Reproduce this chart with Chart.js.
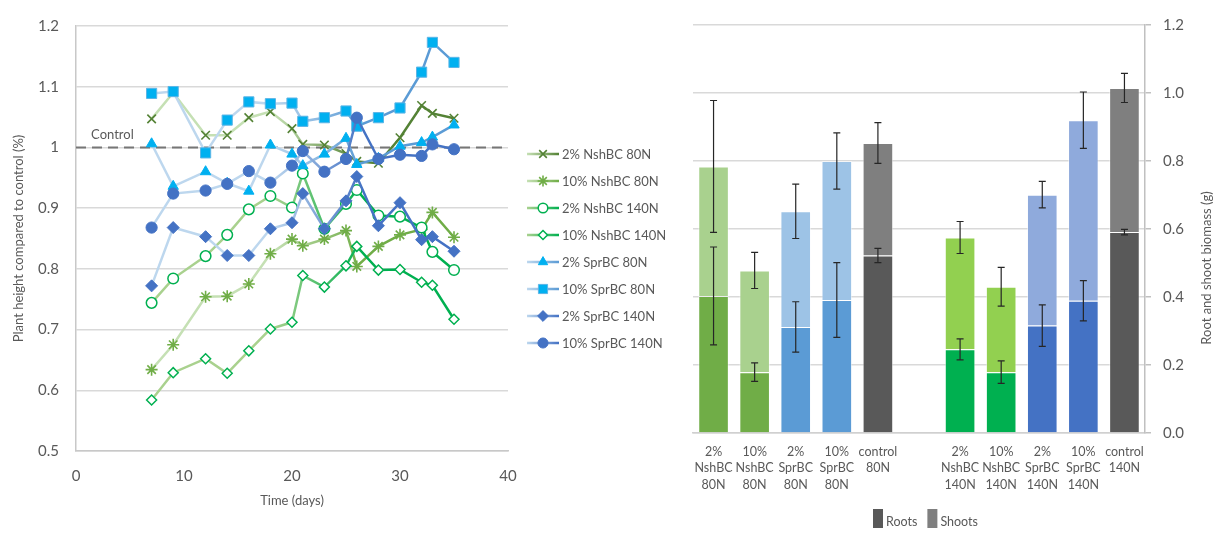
<!DOCTYPE html>
<html>
<head>
<meta charset="utf-8">
<script src="https://cdn.jsdelivr.net/npm/chart.js@4.4.1/dist/chart.umd.min.js"></script>
<style>
  html, body { margin: 0; padding: 0; background: #fff; }
  #wrap { position: relative; width: 1215px; height: 533px; overflow: hidden; }
  #heightChart { position: absolute; left: 0; top: 0; }
  #biomassChart { position: absolute; left: 680px; top: 0; }
</style>
</head>
<body>
<div id="wrap">
  <canvas id="heightChart" width="680" height="533"></canvas>
  <canvas id="biomassChart" width="535" height="533"></canvas>
</div>
<script>
// ---- plant height data (left chart) ----
var days = [7, 9, 12, 14, 16, 18, 20, 21, 23, 25, 26, 28, 30, 32, 33, 35];

var nsh2_80   = [1.047, 1.090, 1.020, 1.020, 1.049, 1.059, 1.031, 1.005, 1.004, 0.990, 0.977, 0.974, 1.016, 1.069, 1.056, 1.048];
var nsh10_80  = [0.634, 0.675, 0.754, 0.755, 0.775, 0.825, 0.849, 0.838, 0.849, 0.863, 0.804, 0.837, 0.856, 0.865, 0.893, 0.852];
var nsh2_140  = [0.744, 0.784, 0.821, 0.856, 0.898, 0.920, 0.901, 0.957, 0.866, 0.907, 0.930, 0.888, 0.886, 0.868, 0.828, 0.798];
var nsh10_140 = [0.584, 0.629, 0.652, 0.628, 0.665, 0.701, 0.712, 0.789, 0.770, 0.805, 0.837, 0.798, 0.799, 0.778, 0.773, 0.717];
var spr2_80   = [1.006, 0.936, 0.960, 0.941, 0.928, 1.004, 0.989, 0.970, 0.989, 1.015, 0.972, 0.982, 1.002, 1.008, 1.017, 1.037];
var spr10_80  = [1.089, 1.092, 0.991, 1.045, 1.075, 1.072, 1.073, 1.043, 1.049, 1.060, 1.035, 1.049, 1.065, 1.124, 1.173, 1.140];
var spr2_140  = [0.772, 0.868, 0.853, 0.822, 0.822, 0.866, 0.876, 0.924, 0.866, 0.912, 0.952, 0.871, 0.909, 0.848, 0.853, 0.829];
var spr10_140 = [0.868, 0.924, 0.929, 0.940, 0.961, 0.942, 0.970, 0.994, 0.960, 0.981, 1.049, 0.981, 0.988, 0.986, 1.005, 0.997];

var seriesNames = ['2% NshBC 80N', '10% NshBC 80N', '2% NshBC 140N', '10% NshBC 140N',
                   '2% SprBC 80N', '10% SprBC 80N', '2% SprBC 140N', '10% SprBC 140N'];
var seriesValues = [nsh2_80, nsh10_80, nsh2_140, nsh10_140, spr2_80, spr10_80, spr2_140, spr10_140];

var controlDays = [0, 40];
var controlLevel = [1, 1];

// ---- biomass data (right chart) ----
var groups = [['2%', 'NshBC', '80N'], ['10%', 'NshBC', '80N'], ['2%', 'SprBC', '80N'], ['10%', 'SprBC', '80N'], ['control', '80N'],
              '',
              ['2%', 'NshBC', '140N'], ['10%', 'NshBC', '140N'], ['2%', 'SprBC', '140N'], ['10%', 'SprBC', '140N'], ['control', '140N']];
var roots    = [0.403, 0.179, 0.312, 0.391, 0.522, null, 0.246, 0.179, 0.316, 0.389, 0.591];
var shoots   = [0.381, 0.299, 0.340, 0.409, 0.331, null, 0.329, 0.251, 0.385, 0.531, 0.424];
var rootErr  = [0.144, 0.027, 0.074, 0.110, 0.021, null, 0.031, 0.033, 0.061, 0.059, 0.008];
var shootErr = [0.194, 0.053, 0.080, 0.083, 0.060, null, 0.047, 0.057, 0.039, 0.083, 0.043];

// styles
var rootColors  = ['#70AD47', '#70AD47', '#5B9BD5', '#5B9BD5', '#595959', null, '#00B050', '#00B050', '#4472C4', '#4472C4', '#595959'];
var shootColors = ['#A9D18E', '#A9D18E', '#9DC3E6', '#9DC3E6', '#7F7F7F', null, '#92D050', '#92D050', '#8FAADC', '#8FAADC', '#7F7F7F'];

var lineStyles = [
  { light: '#C5E0B4', dark: '#548235', marker: 'crossRot', radius: 6,   fill: '#548235', stroke: '#548235', bw: 1.6 },
  { light: '#C5E0B4', dark: '#70AD47', marker: 'star',     radius: 6,   fill: '#70AD47', stroke: '#70AD47', bw: 1.6 },
  { light: '#A9D18E', dark: '#00B050', marker: 'circle',   radius: 5.3, fill: '#ffffff', stroke: '#00B050', bw: 1.5 },
  { light: '#A9D18E', dark: '#00B050', marker: 'rectRot',  radius: 5,   fill: '#ffffff', stroke: '#00B050', bw: 1.5 },
  { light: '#BDD7EE', dark: '#5B9BD5', marker: 'triangle', radius: 6,   fill: '#00B0F0', stroke: '#00B0F0', bw: 1 },
  { light: '#BDD7EE', dark: '#5B9BD5', marker: 'rect',     radius: 7.2, fill: '#00B0F0', stroke: '#5BB5E6', bw: 1 },
  { light: '#BDD7EE', dark: '#4472C4', marker: 'rectRot',  radius: 6,   fill: '#4472C4', stroke: '#4472C4', bw: 1 },
  { light: '#BDD7EE', dark: '#4472C4', marker: 'circle',   radius: 5.6, fill: '#4472C4', stroke: '#4472C4', bw: 1 }
];

var textColor = '#595959';
Chart.defaults.font.family = 'Lato, Calibri, sans-serif';
Chart.defaults.color = textColor;

function lineGradient(light, dark) {
  return function (context) {
    var chart = context.chart;
    if (!chart.chartArea || !chart.scales.x) return dark;
    var xs = chart.scales.x;
    var x0 = xs.getPixelForValue(days[0]);
    var x1 = xs.getPixelForValue(days[days.length - 1]);
    var g = chart.ctx.createLinearGradient(x0, 0, x1, 0);
    g.addColorStop(0, light);
    g.addColorStop(0.4, light);
    g.addColorStop(0.7, dark);
    g.addColorStop(1, dark);
    return g;
  };
}

var heightSets = seriesNames.map(function (name, i) {
  var st = lineStyles[i];
  return {
    label: name,
    data: days.map(function (d, j) { return { x: d, y: seriesValues[i][j] }; }),
    borderColor: lineGradient(st.light, st.dark),
    borderWidth: 2.5,
    pointStyle: st.marker,
    pointRadius: st.radius,
    pointBackgroundColor: st.fill,
    pointBorderColor: st.stroke,
    pointBorderWidth: st.bw,
    tension: 0,
    order: seriesNames.length - i
  };
});

heightSets.push({
  label: 'Control',
  data: controlDays.map(function (d, j) { return { x: d, y: controlLevel[j] }; }),
  borderColor: '#767676',
  borderWidth: 2,
  borderDash: [10, 6],
  pointRadius: 0,
  order: 99
});

// "Control" label and legend with line + marker samples
var heightExtras = {
  id: 'heightExtras',
  afterDraw: function (chart) {
    var ctx = chart.ctx;
    var xs = chart.scales.x, ys = chart.scales.y;
    ctx.save();
    ctx.font = '13px Lato, Calibri, sans-serif';
    ctx.fillStyle = textColor;
    ctx.textAlign = 'left';
    ctx.textBaseline = 'middle';
    ctx.fillText('Control', xs.getPixelForValue(1.4), ys.getPixelForValue(1) - 13);

    var lx = chart.chartArea.right + 19;
    var ly = 154;
    seriesNames.forEach(function (name, i) {
      var st = lineStyles[i];
      var y = ly + i * 27;
      var g = ctx.createLinearGradient(lx, 0, lx + 32, 0);
      g.addColorStop(0, st.light);
      g.addColorStop(1, st.dark);
      ctx.strokeStyle = g;
      ctx.lineWidth = 2.5;
      ctx.setLineDash([]);
      ctx.beginPath();
      ctx.moveTo(lx, y);
      ctx.lineTo(lx + 32, y);
      ctx.stroke();
      ctx.fillStyle = st.fill;
      ctx.strokeStyle = st.stroke;
      ctx.lineWidth = st.bw;
      Chart.helpers.drawPoint(ctx, { pointStyle: st.marker, radius: st.radius * 0.9, borderWidth: st.bw, rotation: 0 }, lx + 16, y);
      ctx.fillStyle = textColor;
      ctx.fillText(name, lx + 35, y + 1);
    });
    ctx.restore();
  }
};

new Chart(document.getElementById('heightChart'), {
  type: 'line',
  data: { datasets: heightSets },
  options: {
    responsive: false,
    animation: false,
    layout: { padding: { left: 0, top: 13, right: 172, bottom: 0 } },
    plugins: { legend: { display: false }, tooltip: { enabled: false } },
    scales: {
      x: {
        type: 'linear', min: 0, max: 40,
        ticks: { stepSize: 10, font: { size: 15 }, color: textColor, padding: 16 },
        grid: { display: false, drawTicks: false },
        border: { display: true, color: '#c8c8c8', width: 1.5 },
        title: { display: true, text: 'Time (days)', font: { size: 13 }, color: textColor, padding: { bottom: 24, top: 0 } },
        afterFit: function (s) { s.height = 82; }
      },
      y: {
        min: 0.5, max: 1.2,
        ticks: { stepSize: 0.1, font: { size: 15 }, color: textColor, padding: 17,
                 callback: function (v) { return String(Math.round(v * 10) / 10); } },
        grid: { color: '#d9d9d9', lineWidth: 1.5, drawTicks: false },
        border: { display: true, color: '#c8c8c8', width: 1.5 },
        title: { display: true, text: 'Plant height compared to control (%)', font: { size: 13 }, color: textColor, padding: { top: 11, bottom: 0 } },
        afterFit: function (s) { s.width = 76; }
      }
    }
  },
  plugins: [heightExtras]
});

// ---- right chart ----
var errorBars = {
  id: 'errorBars',
  afterDatasetsDraw: function (chart) {
    var ctx = chart.ctx, ys = chart.scales.y;
    var meta = chart.getDatasetMeta(0);
    function bar(x, v, e) {
      var yt = ys.getPixelForValue(v + e), yb = ys.getPixelForValue(v - e);
      ctx.beginPath();
      ctx.moveTo(x, yt); ctx.lineTo(x, yb);
      ctx.moveTo(x - 3.5, yt); ctx.lineTo(x + 3.5, yt);
      ctx.moveTo(x - 3.5, yb); ctx.lineTo(x + 3.5, yb);
      ctx.stroke();
    }
    ctx.save();
    ctx.strokeStyle = '#262626';
    ctx.lineWidth = 1.2;
    roots.forEach(function (r, i) {
      if (r === null) return;
      var x = meta.data[i].x;
      bar(x, r, rootErr[i]);
      bar(x, r + shoots[i], shootErr[i]);
    });
    ctx.restore();
  }
};

var biomassExtras = {
  id: 'biomassExtras',
  afterDraw: function (chart) {
    var ctx = chart.ctx;
    ctx.save();
    ctx.font = '13px Lato, Calibri, sans-serif';
    ctx.fillStyle = textColor;
    // axis title on the right, reading bottom to top
    ctx.translate(527, 268);
    ctx.rotate(-Math.PI / 2);
    ctx.textAlign = 'center';
    ctx.textBaseline = 'middle';
    ctx.fillText('Root and shoot biomass (g)', 0, 0);
    ctx.restore();

    // bottom legend
    ctx.save();
    ctx.font = '12.5px Lato, Calibri, sans-serif';
    ctx.textBaseline = 'middle';
    ctx.textAlign = 'left';
    var items = [{ t: 'Roots', c: '#595959' }, { t: 'Shoots', c: '#7F7F7F' }];
    var x = 193;
    items.forEach(function (it) {
      ctx.fillStyle = it.c;
      ctx.fillRect(x, 509, 10, 19);
      ctx.fillStyle = textColor;
      ctx.fillText(it.t, x + 13, 522);
      x += 13 + ctx.measureText(it.t).width + 10;
    });
    ctx.restore();
  }
};

new Chart(document.getElementById('biomassChart'), {
  type: 'bar',
  data: {
    labels: groups,
    datasets: [
      { label: 'Roots', data: roots, backgroundColor: rootColors, borderColor: 'rgba(255,255,255,0.5)', borderWidth: 1,
        categoryPercentage: 1, barPercentage: 0.745 },
      { label: 'Shoots', data: shoots, backgroundColor: shootColors, borderColor: 'rgba(255,255,255,0.5)', borderWidth: 1,
        categoryPercentage: 1, barPercentage: 0.745 }
    ]
  },
  options: {
    responsive: false,
    animation: false,
    layout: { padding: { left: 13, top: 25, right: 0, bottom: 0 } },
    plugins: { legend: { display: false }, tooltip: { enabled: false } },
    scales: {
      x: {
        stacked: true,
        grid: { display: false, drawTicks: false },
        border: { display: true, color: '#d0d0d0', width: 1.5 },
        ticks: { font: { size: 12.5, lineHeight: 1.3 }, color: textColor, padding: 11, maxRotation: 0, autoSkip: false },
        afterFit: function (s) { s.height = 100; }
      },
      y: {
        stacked: true,
        position: 'right',
        min: 0, max: 1.2,
        ticks: { stepSize: 0.2, font: { size: 15 }, color: textColor, padding: 12,
                 callback: function (v) { return v.toFixed(1); } },
        grid: { color: '#d9d9d9', lineWidth: 1.5, tickLength: 6, tickColor: '#c0c0c0' },
        border: { display: true, color: '#c0c0c0', width: 1.5 },
        afterFit: function (s) { s.width = 70; }
      }
    }
  },
  plugins: [errorBars, biomassExtras]
});
</script>
</body>
</html>
